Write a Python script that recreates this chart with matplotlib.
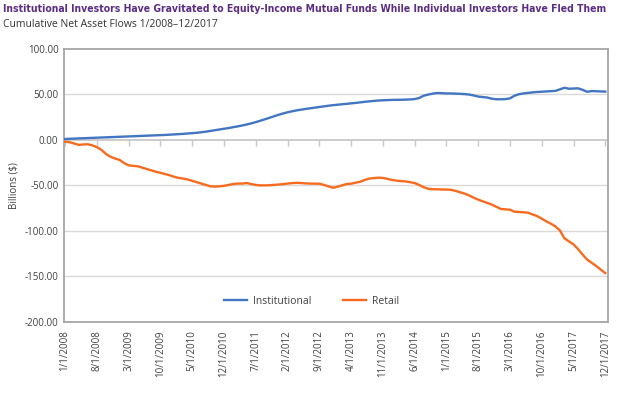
import matplotlib
matplotlib.use("Agg")
import matplotlib.pyplot as plt
from matplotlib import font_manager as fm
import numpy as np

months = [f"{m}/1/{y}" for y in range(2008, 2018) for m in range(1, 13)]

institutional = [
    1.0, 1.2, 1.4, 1.6, 1.8, 2.0, 2.2, 2.4, 2.6, 2.8,
    3.0, 3.2, 3.4, 3.6, 3.8, 4.0, 4.2, 4.4, 4.6, 4.8,
    5.0, 5.2, 5.4, 5.7, 6.0, 6.3, 6.6, 7.0, 7.4, 7.8,
    8.4, 9.0, 9.8, 10.6, 11.4, 12.2, 13.0, 13.9, 14.8, 15.8,
    16.9, 18.1, 19.5, 21.0, 22.6, 24.2, 25.9, 27.5, 29.0, 30.3,
    31.4, 32.4, 33.2, 34.0, 34.7, 35.4, 36.1, 36.8, 37.5, 38.1,
    38.6, 39.1, 39.6, 40.1, 40.6, 41.2, 41.8, 42.3, 42.8, 43.2,
    43.5, 43.7, 43.9, 44.0, 44.1, 44.2, 44.4, 44.8, 46.0, 48.5,
    49.8, 50.8, 51.5, 51.3, 51.0, 51.0, 50.8, 50.6, 50.3, 49.8,
    48.8, 47.6, 47.0, 46.5, 45.2, 44.6, 44.6, 44.8, 45.6, 48.5,
    50.2, 51.0, 51.6, 52.2, 52.6, 52.9, 53.2, 53.5, 53.8, 55.5,
    57.2, 56.2, 56.4, 56.6, 55.0, 52.8, 53.6, 53.4, 53.2, 53.0,
]

retail = [
    -2.0, -2.5, -4.0, -5.5, -5.0, -4.8, -6.0, -8.0, -11.0, -15.5,
    -18.5, -20.5, -22.0, -25.5, -28.0, -28.5, -29.0, -30.5, -32.0, -33.5,
    -35.0, -36.2, -37.5, -38.8, -40.5, -41.8, -42.5, -43.5, -45.0, -46.5,
    -48.0, -49.5, -51.0, -51.3, -51.0, -50.5, -49.5, -48.5, -48.0, -48.0,
    -47.4, -48.5, -49.5, -50.0, -50.0, -49.8, -49.5, -49.0, -48.6, -48.0,
    -47.5, -47.2, -47.4, -47.8, -48.0, -48.1, -48.1, -49.5, -51.0, -52.6,
    -51.5, -50.0, -48.5, -48.1, -47.0, -46.0, -44.0, -42.5, -42.0, -41.5,
    -41.8, -42.8, -44.0, -44.8, -45.3, -45.6, -46.5, -47.4, -49.5, -52.0,
    -53.7, -54.2, -54.3, -54.5, -54.6, -54.8, -56.0, -57.5, -59.0, -61.0,
    -63.5, -65.6, -67.5, -69.2, -71.1, -73.5, -75.9, -76.3, -76.7, -78.9,
    -79.2, -79.5, -80.0, -82.0, -83.7, -86.5, -89.5, -92.0, -95.0, -99.5,
    -108.1, -111.5, -114.8, -120.0, -126.0, -131.5, -135.0, -138.5, -142.5, -146.3,
]

y_ticks = [100, 50, 0, -50, -100, -150, -200]
tick_step = 7

title = "Institutional Investors Have Gravitated to Equity-Income Mutual Funds While Individual Investors Have Fled Them"
subtitle = "Cumulative Net Asset Flows 1/2008\u201312/2017"

plt.rcParams['font.family'] = ['Open Sans', 'DejaVu Sans']
txt = '#404040'
grid_c = '#D9D9D9'
border_c = '#A6A6A6'
blue = '#4275C2'
orange = '#F86B1E'

# look for a condensed bold face for the title
cands = []
for f in fm.fontManager.ttflist:
    n = f.name.lower()
    st = str(f.stretch).lower()
    if ('narrow' in n or 'condensed' in n or 'cond' in st or 'narrow' in st):
        w = f.weight if isinstance(f.weight, int) else (700 if 'bold' in str(f.weight) else 400)
        cands.append((abs(w - 700), f.fname))
if cands:
    cands.sort()
    title_fp = fm.FontProperties(fname=cands[0][1])
else:
    title_fp = fm.FontProperties(family='DejaVu Sans', weight='bold')

fig = plt.figure(figsize=(6.4, 3.97), dpi=100)
ax = fig.add_axes([0.1, 0.189, 0.85, 0.688])

x = np.arange(len(months))
ax.plot(x, institutional, color=blue, lw=1.7, label='Institutional', zorder=3)
ax.plot(x, retail, color=orange, lw=1.7, label='Retail', zorder=3)

ax.set_ylim(-200, 100)
ax.set_xlim(-0.25, len(months) - 0.4)
ax.set_yticks(y_ticks)
ax.set_yticklabels([f"{v:.2f}" for v in y_ticks], fontsize=7, color=txt)
for v in y_ticks:
    if v not in (0, 100, -200):
        ax.axhline(v, color=grid_c, lw=1.0, zorder=1)

tpos = x[::tick_step]
ax.set_xticks(tpos)
ax.set_xticklabels([months[i] for i in tpos], rotation=90, fontsize=7, color=txt)
ax.tick_params(axis='both', length=0, pad=4)
ax.tick_params(axis='x', pad=6)

for s in ax.spines.values():
    s.set_color(border_c)
    s.set_linewidth(1.3)

# zero axis with tick marks
ax.axhline(0, color='#C8C8C8', lw=1.3, zorder=1)
sec = ax.secondary_xaxis(2/3)
sec.set_xticks(tpos)
sec.set_xticklabels([])
for s in sec.spines.values():
    s.set_visible(False)
sec.tick_params(axis='x', which='both', bottom=True, top=False, direction='out',
                length=4, color='#C8C8C8', width=1)

ax.set_ylabel("Billions ($)", fontsize=7, color=txt, labelpad=4)

leg = ax.legend(loc='lower center', bbox_to_anchor=(0.455, 0.02), ncol=2, frameon=False,
                fontsize=7.5, handlelength=2.2, columnspacing=3.0, handletextpad=0.6)
for t in leg.get_texts():
    t.set_color(txt)

title_fp.set_size(11)
tt = fig.text(0.005, 0.99, title, fontproperties=title_fp, fontweight='bold',
              color='#5B2D84', va='top', ha='left')
fig.text(0.005, 0.952, subtitle, fontsize=7.5, color='#333333', va='top', ha='left')

# fit title width to the reference (~600 px)
fig.canvas.draw()
r = fig.canvas.get_renderer()
w = tt.get_window_extent(r).width
if w > 0:
    tt.set_fontsize(11 * 605.0 / w)

fig.savefig('out.png', dpi=100)
